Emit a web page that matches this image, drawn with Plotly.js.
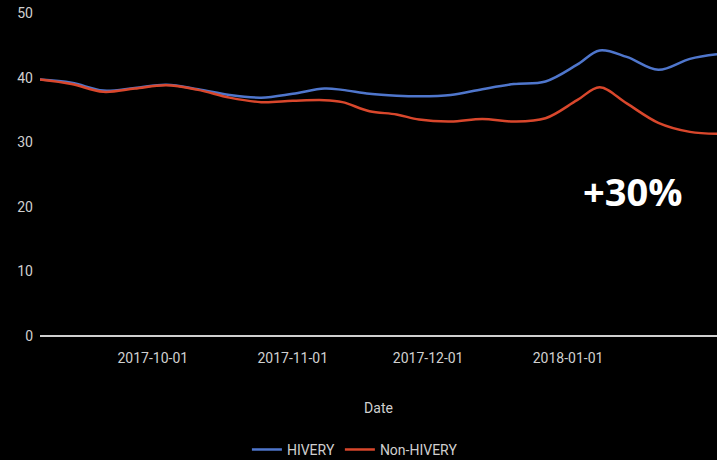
<!DOCTYPE html>
<html>
<head>
<meta charset="utf-8">
<script src="https://cdn.plot.ly/plotly-3.0.1.min.js"></script>
<style>html,body{margin:0;padding:0;background:#000;}#chart{width:717px;height:460px;}</style>
</head>
<body>
<div id="chart"></div>
<script>
const dates = ["2017-09-06","2017-09-13","2017-09-20","2017-09-27","2017-10-04","2017-10-11","2017-10-18","2017-10-25","2017-11-01","2017-11-08","2017-11-12","2017-11-18","2017-11-24","2017-11-29","2017-12-06","2017-12-13","2017-12-20","2017-12-27","2018-01-03","2018-01-08","2018-01-14","2018-01-21","2018-01-28","2018-02-03"];
const hivery = [39.7,39.2,38.0,38.4,38.9,38.2,37.3,36.9,37.5,38.3,38.1,37.5,37.2,37.1,37.3,38.2,39.0,39.4,42.0,44.2,43.2,41.2,42.9,43.6];
const nonHivery = [39.7,39.0,37.8,38.3,38.8,38.1,36.9,36.2,36.4,36.5,36.2,34.8,34.3,33.5,33.2,33.6,33.2,33.7,36.5,38.5,36.0,33.0,31.6,31.3];
const seriesNames = ["HIVERY","Non-HIVERY"];
const tickVals = ["2017-10-01","2017-11-01","2017-12-01","2018-01-01"];
const yTicks = [0,10,20,30,40,50];

const traces = [
  {x: dates, y: hivery, name: seriesNames[0], type: 'scatter', mode: 'lines',
   line: {color: '#4f76cc', width: 2.5, shape: 'spline', smoothing: 1}},
  {x: dates, y: nonHivery, name: seriesNames[1], type: 'scatter', mode: 'lines',
   line: {color: '#d9472c', width: 2.5, shape: 'spline', smoothing: 1}}
];

const layout = {
  width: 717, height: 460,
  paper_bgcolor: '#000', plot_bgcolor: '#000',
  margin: {l: 40, r: 0, t: 13, b: 124, autoexpand: false},
  font: {family: 'Roboto, sans-serif', color: '#cfcfcf', size: 13},
  showlegend: true,
  legend: {orientation: 'h', x: 0.495, xanchor: 'center', xref: 'container',
           y: 0.022, yanchor: 'middle', yref: 'container',
           font: {size: 14, color: '#cfcfcf'}},
  xaxis: {
    type: 'date', range: ['2017-09-06','2018-02-03'], automargin: false,
    tickvals: tickVals, ticktext: tickVals,
    showgrid: false, zeroline: false, showline: false,
    ticks: '', ticklabelstandoff: 12,
    tickfont: {size: 14, color: '#d0d0d0'},
    title: {text: 'Date', font: {size: 14, color: '#d0d0d0'}, standoff: 38}
  },
  yaxis: {
    range: [0, 50], tickvals: yTicks, automargin: false,
    showgrid: false, zeroline: true, zerolinecolor: '#cfcfcf', zerolinewidth: 2,
    showline: false, ticks: '', ticklabelstandoff: 6,
    tickfont: {size: 14, color: '#d0d0d0'}
  },
  annotations: [{
    text: '+30%', xref: 'paper', yref: 'paper', x: 0.875, y: 0.45,
    showarrow: false, xanchor: 'center', yanchor: 'middle',
    font: {family: 'Open Sans, sans-serif', size: 38, color: '#ffffff', weight: 700}
  }]
};

Plotly.newPlot('chart', traces, layout, {displayModeBar: false, staticPlot: true});
</script>
</body>
</html>
